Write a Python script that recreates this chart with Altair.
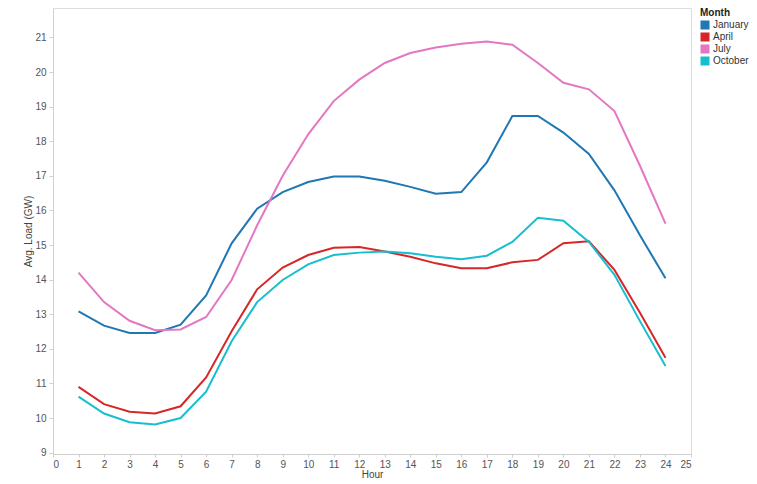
import altair as alt
import pandas as pd

hours = list(range(1, 25))
months = ["January", "April", "July", "October"]
colors = ["#1f77b4", "#d62728", "#e377c2", "#17becf"]

january = [13.08, 12.67, 12.46, 12.46, 12.70, 13.54, 15.05, 16.05, 16.53, 16.82, 16.98, 16.98,
           16.86, 16.68, 16.48, 16.53, 17.39, 18.73, 18.73, 18.25, 17.63, 16.58, 15.28, 14.04]
april = [10.90, 10.40, 10.18, 10.13, 10.34, 11.17, 12.51, 13.72, 14.35, 14.71, 14.92, 14.94,
         14.81, 14.66, 14.47, 14.33, 14.33, 14.50, 14.57, 15.05, 15.11, 14.28, 13.04, 11.74]
july = [14.20, 13.35, 12.81, 12.54, 12.56, 12.92, 13.99, 15.57, 17.00, 18.20, 19.16, 19.78,
        20.26, 20.55, 20.71, 20.82, 20.88, 20.79, 20.26, 19.69, 19.50, 18.87, 17.29, 15.62]
october = [10.62, 10.13, 9.88, 9.81, 10.00, 10.76, 12.22, 13.35, 13.99, 14.44, 14.71, 14.78,
           14.81, 14.76, 14.66, 14.59, 14.69, 15.09, 15.79, 15.70, 15.09, 14.14, 12.80, 11.50]

x_ticks = list(range(0, 26))
y_ticks = list(range(9, 22))

series = [january, april, july, october]
rows = []
for m, vals in zip(months, series):
    for h, v in zip(hours, vals):
        rows.append({"Hour": h, "Load": v, "Month": m})
df = pd.DataFrame(rows)

FONT = "Liberation Sans"

x_enc = alt.X("Hour:Q", title="Hour",
              scale=alt.Scale(domain=[0, 25], nice=False, zero=False),
              axis=alt.Axis(values=x_ticks, grid=False, domainColor="#d0d0d0", tickColor="#d0d0d0",
                            tickSize=3, labelPadding=2, labelFontSize=10, labelColor="#555555",
                            titleFontSize=10, titleFontWeight="normal", titleColor="#444444",
                            titlePadding=0, labelFont=FONT, titleFont=FONT))
y_enc = alt.Y("Load:Q", title="Avg. Load (GW)",
              scale=alt.Scale(domain=[8.96, 21.85], nice=False, zero=False),
              axis=alt.Axis(values=y_ticks, grid=False, domainColor="#d0d0d0", tickColor="#d0d0d0",
                            tickSize=4, labelPadding=3, labelFontSize=10, labelColor="#555555",
                            titleFontSize=10, titleFontWeight="normal", titleColor="#444444",
                            titlePadding=1, labelFont=FONT, titleFont=FONT))
c_enc = alt.Color("Month:N", scale=alt.Scale(domain=months, range=colors),
                  legend=alt.Legend(title="Month", orient="right", offset=9, padding=0,
                                    symbolType="square", symbolSize=81, symbolStrokeWidth=0,
                                    symbolOffset=0,
                                    titleFontSize=10, titleFontWeight="bold", titleColor="#222222",
                                    labelFontSize=10, labelColor="#333333", rowPadding=2,
                                    labelOffset=3, titlePadding=2, labelFont=FONT, titleFont=FONT))

base = alt.Chart(df).encode(x=x_enc, y=y_enc, color=c_enc)
lines = base.mark_line(strokeWidth=2)
pts = base.mark_point(shape="square", filled=True, size=0, opacity=1)

chart = alt.layer(lines, pts).properties(
    width=638, height=446,
    padding={"left": 45, "top": 0, "right": 58, "bottom": 27},
    autosize=alt.AutoSizeParams(type="none"),
    background="white",
).configure_view(stroke="#dddddd", strokeWidth=1)

chart.save("out.html", embed_options={"renderer": "svg", "actions": False})
